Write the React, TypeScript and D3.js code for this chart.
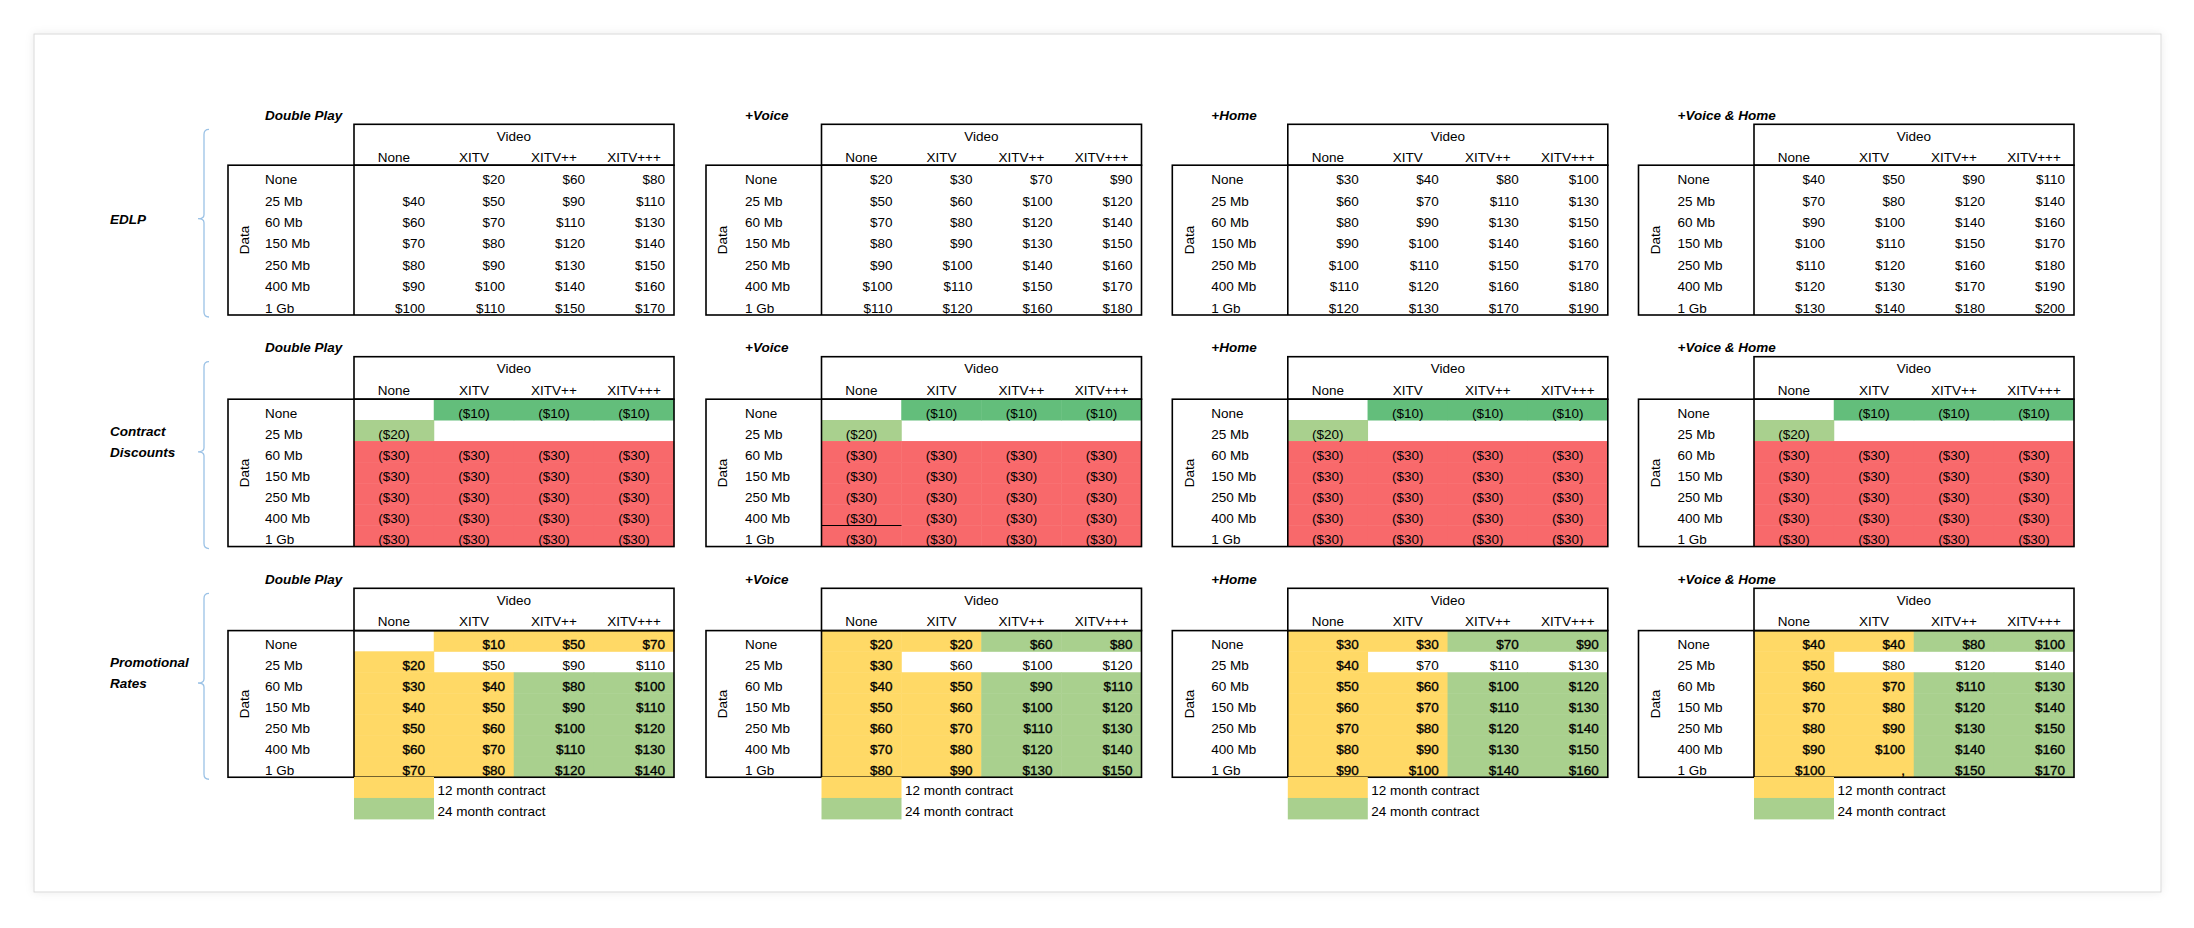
import React from "react";
import * as d3 from "d3";

// ---------- data ----------
const videoTiers = ["None", "XITV", "XITV++", "XITV+++"];
const dataTiers = ["None", "25 Mb", "60 Mb", "150 Mb", "250 Mb", "400 Mb", "1 Gb"];
const bundles = ["Double Play", "+Voice", "+Home", "+Voice & Home"];
const sectionLabels = [["EDLP"], ["Contract", "Discounts"], ["Promotional", "Rates"]];
const legendLabels = ["12 month contract", "24 month contract"];

type V = number | string | null;

// EDLP prices per bundle
const edlpDoublePlay: V[][] = [
  [null, 20, 60, 80], [40, 50, 90, 110], [60, 70, 110, 130], [70, 80, 120, 140],
  [80, 90, 130, 150], [90, 100, 140, 160], [100, 110, 150, 170],
];
const edlpVoice: V[][] = [
  [20, 30, 70, 90], [50, 60, 100, 120], [70, 80, 120, 140], [80, 90, 130, 150],
  [90, 100, 140, 160], [100, 110, 150, 170], [110, 120, 160, 180],
];
const edlpHome: V[][] = [
  [30, 40, 80, 100], [60, 70, 110, 130], [80, 90, 130, 150], [90, 100, 140, 160],
  [100, 110, 150, 170], [110, 120, 160, 180], [120, 130, 170, 190],
];
const edlpVoiceHome: V[][] = [
  [40, 50, 90, 110], [70, 80, 120, 140], [90, 100, 140, 160], [100, 110, 150, 170],
  [110, 120, 160, 180], [120, 130, 170, 190], [130, 140, 180, 200],
];

// Contract discounts (identical for each bundle)
const contractDiscounts: V[][] = [
  [null, -10, -10, -10], [-20, null, null, null], [-30, -30, -30, -30], [-30, -30, -30, -30],
  [-30, -30, -30, -30], [-30, -30, -30, -30], [-30, -30, -30, -30],
];

// Promotional rates per bundle
const promoDoublePlay: V[][] = [
  [null, 10, 50, 70], [20, 50, 90, 110], [30, 40, 80, 100], [40, 50, 90, 110],
  [50, 60, 100, 120], [60, 70, 110, 130], [70, 80, 120, 140],
];
const promoVoice: V[][] = [
  [20, 20, 60, 80], [30, 60, 100, 120], [40, 50, 90, 110], [50, 60, 100, 120],
  [60, 70, 110, 130], [70, 80, 120, 140], [80, 90, 130, 150],
];
const promoHome: V[][] = [
  [30, 30, 70, 90], [40, 70, 110, 130], [50, 60, 100, 120], [60, 70, 110, 130],
  [70, 80, 120, 140], [80, 90, 130, 150], [90, 100, 140, 160],
];
const promoVoiceHome: V[][] = [
  [40, 40, 80, 100], [50, 80, 120, 140], [60, 70, 110, 130], [70, 80, 120, 140],
  [80, 90, 130, 150], [90, 100, 140, 160], [100, ",", 150, 170],
];

// contract term of promo cells (12 / 24 months, null = none)
const promoTermDoublePlay: (number | null)[][] = [
  [null, 12, 12, 12], [12, null, null, null], [12, 12, 24, 24], [12, 12, 24, 24],
  [12, 12, 24, 24], [12, 12, 24, 24], [12, 12, 24, 24],
];
const promoTermOther: (number | null)[][] = [
  [12, 12, 24, 24], [12, null, null, null], [12, 12, 24, 24], [12, 12, 24, 24],
  [12, 12, 24, 24], [12, 12, 24, 24], [12, 12, 24, 24],
];

const edlpTables = [edlpDoublePlay, edlpVoice, edlpHome, edlpVoiceHome];
const promoTables = [promoDoublePlay, promoVoice, promoHome, promoVoiceHome];
const promoTerms = [promoTermDoublePlay, promoTermOther, promoTermOther, promoTermOther];

// ---------- layout ----------
const W = 2194;
const H = 928;
const FONT = "'Liberation Sans', Arial, Helvetica, sans-serif";
const FS = 13.5;

const panelHeaderLeft = [354, 821.5, 1287.8, 1754];
const panelLabelW = [126, 115.5, 115.5, 115.5];
const panelLabelOff = [37, 39, 39, 39];
const colW = 80;

const bandHeaderTop = [124.3, 356.7, 588.3];
const bandBodyTop = [165.2, 399.2, 630.6];
const bandRowH = [21.4, 21.05, 20.95];

const money = d3.format("$,.0f");
const moneyParen = d3.format("($,.0f");

const contractColor = d3.scaleOrdinal<number, string>().domain([-10, -20, -30]).range(["#63BE7B", "#A9D08E", "#F8696B"]);
const termColor = d3.scaleOrdinal<number, string>().domain([12, 24]).range(["#FFD966", "#A9D08E"]);

function fmt(v: V): string {
  if (v === null) return "";
  if (typeof v === "string") return v;
  return v < 0 ? moneyParen(v) : money(v);
}

type Kind = "edlp" | "contract" | "promo";

function Panel({ band, p, kind }: { band: number; p: number; kind: Kind }) {
  const hl = panelHeaderLeft[p];
  const right = hl + colW * 4;
  const bl = hl - panelLabelW[p];
  const ht = bandHeaderTop[band];
  const bt = bandBodyTop[band];
  const rh = bandRowH[band];
  const bb = bt + rh * 7;
  const x = d3.scaleBand<string>().domain(videoTiers).range([hl, right]);
  const y = d3.scaleBand<string>().domain(dataTiers).range([bt, bb]);
  const values = kind === "edlp" ? edlpTables[p] : kind === "contract" ? contractDiscounts : promoTables[p];

  const fills: React.ReactNode[] = [];
  const texts: React.ReactNode[] = [];
  dataTiers.forEach((dt, ri) => {
    videoTiers.forEach((vt, ci) => {
      const v = values[ri][ci];
      let fill: string | null = null;
      if (kind === "contract" && typeof v === "number") fill = contractColor(v);
      if (kind === "promo") {
        const t = promoTerms[p][ri][ci];
        if (t !== null) fill = termColor(t);
      }
      const cx = x(vt)!;
      const cy = y(dt)!;
      if (fill)
        fills.push(
          <rect
            key={`f${ri}-${ci}`}
            x={cx - 0.25}
            y={cy - 0.25}
            width={x.bandwidth() + 0.5}
            height={y.bandwidth() + 0.5}
            fill={fill}
          />
        );
      const txt = fmt(v);
      if (txt) {
        const centered = kind === "contract";
        const heavy = kind === "promo" && !!fill;
        texts.push(
          <text
            key={`t${ri}-${ci}`}
            x={centered ? cx + x.bandwidth() / 2 : cx + x.bandwidth() - 9}
            y={cy + y.bandwidth() - 2.5}
            textAnchor={centered ? "middle" : "end"}
            fontSize={FS}
            fill="#000"
            stroke={heavy ? "#000" : "none"}
            strokeWidth={heavy ? 0.35 : 0}
          >
            {txt}
          </text>
        );
      }
    });
  });

  return (
    <g fontFamily={FONT}>
      {/* panel title */}
      <text x={bl + panelLabelOff[p]} y={ht - 4.5} fontSize={FS} fontWeight="bold" fontStyle="italic">
        {bundles[p]}
      </text>
      {fills}
      {texts}
      {/* header */}
      <text x={(hl + right) / 2} y={ht + 16.5} fontSize={FS} textAnchor="middle">Video</text>
      {videoTiers.map((vt) => (
        <text key={vt} x={x(vt)! + x.bandwidth() / 2} y={ht + 38} fontSize={FS} textAnchor="middle">
          {vt}
        </text>
      ))}
      {/* row labels */}
      {dataTiers.map((dt) => (
        <text key={dt} x={bl + panelLabelOff[p]} y={y(dt)! + y.bandwidth() - 2.5} fontSize={FS}>
          {dt}
        </text>
      ))}
      <text
        transform={`translate(${bl + 16.5},${(bt + bb) / 2}) rotate(-90)`}
        textAnchor="middle"
        dy="0.35em"
        fontSize={FS}
      >
        Data
      </text>
      {/* borders */}
      <rect x={hl} y={ht} width={right - hl} height={bt - ht} fill="none" stroke="#000" strokeWidth={1.6} />
      <rect x={bl} y={bt} width={right - bl} height={bb - bt} fill="none" stroke="#000" strokeWidth={1.6} />
      <line x1={hl} x2={hl} y1={bt} y2={bb} stroke="#000" strokeWidth={1.6} />
      {kind === "contract" && p === 1 && (
        <line x1={hl} x2={hl + colW} y1={y("400 Mb")! + y.bandwidth()} y2={y("400 Mb")! + y.bandwidth()} stroke="#000" strokeWidth={1.2} />
      )}
      {/* legend */}
      {kind === "promo" &&
        legendLabels.map((lab, i) => (
          <g key={lab}>
            <rect x={hl} y={bb + i * rh - 0.25} width={colW} height={rh + 0.5} fill={termColor([12, 24][i])} />
            <text x={hl + colW + 3.5} y={bb + (i + 1) * rh - 3} fontSize={FS}>
              {lab}
            </text>
          </g>
        ))}
    </g>
  );
}

function Brace({ band }: { band: number }) {
  const bx = 204;
  const top = bandHeaderTop[band] + 5;
  const bottom = bandBodyTop[band] + bandRowH[band] * 7 + 2;
  const mid = bandBodyTop[band] + bandRowH[band] * 2.5;
  const path = d3.path();
  path.moveTo(bx + 5, top);
  path.quadraticCurveTo(bx, top, bx, top + 5);
  path.lineTo(bx, mid - 4);
  path.quadraticCurveTo(bx, mid, bx - 6, mid);
  path.quadraticCurveTo(bx, mid, bx, mid + 4);
  path.lineTo(bx, bottom - 5);
  path.quadraticCurveTo(bx, bottom, bx + 5, bottom);
  const lines = sectionLabels[band];
  return (
    <g fontFamily={FONT}>
      <path d={path.toString()} fill="none" stroke="#9BC2E6" strokeWidth={1.3} />
      {lines.map((l, i) => (
        <text
          key={l}
          x={110}
          y={mid + 5 - (lines.length - 1 - i) * 20.5}
          fontSize={FS}
          fontWeight="bold"
          fontStyle="italic"
        >
          {l}
        </text>
      ))}
    </g>
  );
}

export default function App() {
  const kinds: Kind[] = ["edlp", "contract", "promo"];
  return (
    <svg width={W} height={H} style={{ position: "absolute", left: 0, top: 0, background: "#fff" }}>
      <defs>
        <filter id="sh" x="-2%" y="-2%" width="104%" height="104%">
          <feDropShadow dx="0" dy="0" stdDeviation="4" floodColor="#000" floodOpacity="0.08" />
        </filter>
      </defs>
      <rect x={34} y={34} width={2127} height={858} fill="#fff" stroke="#d9d9d9" strokeWidth={1} filter="url(#sh)" />
      {kinds.map((k, band) => (
        <g key={k}>
          <Brace band={band} />
          {bundles.map((b, p) => (
            <Panel key={b} band={band} p={p} kind={k} />
          ))}
        </g>
      ))}
    </svg>
  );
}
